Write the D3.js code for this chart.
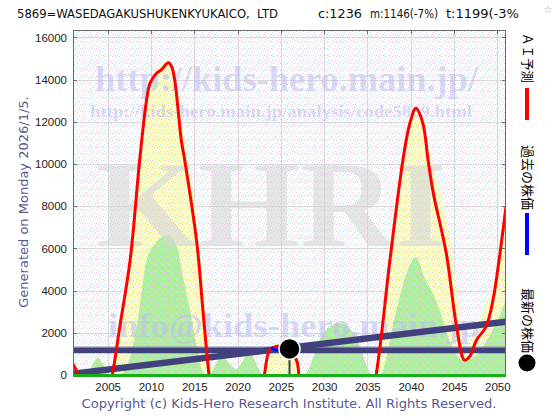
<!DOCTYPE html>
<html><head><meta charset="utf-8">
<script src="https://cdn.jsdelivr.net/npm/d3@7"></script>
<style>html,body{margin:0;padding:0;background:#fff;} svg{display:block;}</style>
</head><body>
<svg id="c" width="560" height="420"></svg>
<script>
// ---------- data ----------
const titleParts = ["5869=WASEDAGAKUSHUKENKYUKAICO,  LTD", "c:1236", "m:1146(-7%)", "t:1199(-3%)"];
const xTicks = [2005, 2010, 2015, 2020, 2025, 2030, 2035, 2040, 2045, 2050];
const yTicks = [0, 2000, 4000, 6000, 8000, 10000, 12000, 14000, 16000];

const aiYears  = [2001.0, 2001.6, 2002.5, 2003.5, 2004.6, 2005.55, 2006.4, 2007.6, 2008.7, 2009.5, 2009.9, 2010.65, 2011.2, 2012.0, 2012.4, 2012.8, 2013.1, 2013.5, 2013.9, 2015.3, 2016.0, 2016.7, 2018.0, 2020.0, 2022.0, 2023.1, 2023.7, 2024.5, 2025.5, 2026.8, 2027.1, 2028.5, 2031.5, 2034.5, 2036.0, 2037.6, 2039.1, 2039.9, 2040.6, 2041.4, 2042.0, 2042.6, 2044.1, 2045.3, 2046.2, 2046.8, 2047.6, 2048.7, 2049.5, 2050.2, 2051.0];
const aiValues = [520, 0, -2500, -3500, -2000, 0, 2275, 5450, 10190, 13040, 13830, 14300, 14460, 14800, 14610, 13830, 12720, 11140, 10190, 6260, 3080, 0, -4500, -5500, -3500, 0, 1150, 1350, 1300, 710, 0, -3000, -4500, -3000, 0, 5450, 10190, 11930, 12640, 11930, 10190, 8630, 5780, 2275, 710, 870, 1660, 2290, 3555, 5450, 7980];

const upperYears  = [2001, 2005.3, 2006.4, 2007.6, 2008.7, 2009.5, 2010.5, 2012.0, 2012.8, 2013.8, 2015.0, 2016.0, 2016.9, 2017.3, 2022.9, 2023.7, 2025.0, 2026.5, 2027.4, 2035.8, 2037.6, 2039.1, 2040.6, 2042.0, 2043.2, 2044.5, 2045.5, 2046.2, 2047.0, 2048.3, 2049.5, 2050.3, 2051.0];
const upperValues = [0, 0, 2600, 5800, 10500, 13300, 14400, 14800, 14000, 11500, 8200, 4500, 1000, 0, 0, 1200, 1500, 1100, 0, 0, 5600, 10300, 12640, 10800, 9000, 6500, 3500, 1300, 1700, 2900, 4200, 6000, 8200];

const lowerYears  = [2001, 2002.4, 2003.9, 2005.3, 2006.3, 2007.2, 2008.35, 2009.5, 2010.5, 2012.0, 2013.0, 2013.7, 2014.5, 2015.3, 2016.0, 2016.6, 2018.2, 2019.8, 2021.4, 2023.0, 2027.6, 2029.9, 2031.8, 2033.7, 2035.6, 2036.4, 2038.3, 2039.5, 2040.6, 2041.5, 2042.9, 2044.8, 2046.0, 2047.5, 2049.0, 2050.2, 2051.0];
const lowerValues = [0, 0, 800, 0, 0, 400, 2290, 5450, 6240, 6630, 6080, 4660, 3080, 1340, 100, 0, 870, 300, 1040, 0, 0, 1980, 2450, 1800, 0, 0, 3000, 4800, 5600, 4700, 3550, 1340, 700, 900, 1800, 2760, 3550];

const pastYears  = [2023.9, 2024.3, 2024.8, 2025.3];
const pastValues = [1300, 1200, 1170, 1230];

const latestYear = 2026.0, latestValue = 1236;
const avgLevels = [1146, 1199];            // m, t
const trendYears = [2001, 2051];
const trendValues = [60, 2526];

const legendLabels = ["ＡＩ予測", "過去の株価", "最新の株価"];

// ---------- drawing ----------
const svg = d3.select("#c");
const x = d3.scaleLinear().domain([2001, 2051]).range([73, 506]);
const y = d3.scaleLinear().domain([0, 16350]).range([375, 30]);
const X0 = x.range()[0], X1 = x.range()[1], Y0 = y.range()[0], Y1 = y.range()[1];

const defs = svg.append("defs");
defs.append("clipPath").attr("id", "plot").append("rect")
  .attr("x", X0).attr("y", Y1).attr("width", X1 - X0).attr("height", Y0 - Y1);
defs.append("clipPath").attr("id", "titleclip").append("rect")
  .attr("x", 0).attr("y", 0).attr("width", 519).attr("height", 30);
const pat = defs.append("pattern").attr("id", "dots").attr("patternUnits", "userSpaceOnUse")
  .attr("width", 7).attr("height", 7);
[[0,0,"#f0b4f0"],[4,1,"#b4ecf0"],[2,3,"#f4c4f0"],[6,4,"#b8e8f4"],[1,5,"#c0f0f0"],[5,6,"#f0bcec"],[3,6,"#d8d8f8"]]
  .forEach(([px,py,c]) => pat.append("rect").attr("x",px).attr("y",py).attr("width",1).attr("height",1).attr("fill",c));

// background of plot
svg.append("rect").attr("x", X0).attr("y", Y1).attr("width", X1 - X0).attr("height", Y0 - Y1).attr("fill", "#fff");

// grid
const grid = svg.append("g").attr("shape-rendering", "crispEdges");
grid.selectAll(".vx").data(xTicks).join("line")
  .attr("x1", d => Math.round(x(d)) + 0.5).attr("x2", d => Math.round(x(d)) + 0.5)
  .attr("y1", Y1).attr("y2", Y0).attr("stroke", "#d8d8d8");
grid.selectAll(".hy").data(yTicks.filter(d => d > 0)).join("line")
  .attr("y1", d => Math.round(y(d)) + 0.5).attr("y2", d => Math.round(y(d)) + 0.5)
  .attr("x1", X0).attr("x2", X1).attr("stroke", "#d8d8d8");

const plot = svg.append("g").attr("clip-path", "url(#plot)");

const area = (ys, vs) => d3.area().x((d, i) => x(ys[i])).y0(Y0).y1((d, i) => y(vs[i])).curve(d3.curveMonotoneX)(vs);
plot.append("path").attr("d", area(upperYears, upperValues)).attr("fill", "#ffffbe");
plot.append("path").attr("d", area(lowerYears, lowerValues)).attr("fill", "#aeee98");

// stipple
plot.append("rect").attr("x", X0).attr("y", Y1).attr("width", X1 - X0).attr("height", Y0 - Y1)
  .attr("fill", "url(#dots)").attr("shape-rendering", "crispEdges");

// watermarks
const wm = plot.append("g").attr("font-family", "'Liberation Serif','DejaVu Serif',serif").attr("font-weight", "bold");
wm.append("text").attr("x", 95).attr("y", 91).attr("font-size", 36).attr("textLength", 383)
  .attr("lengthAdjust", "spacingAndGlyphs").attr("fill", "#c0c0ee").attr("fill-opacity", 0.6)
  .text("http://kids-hero.main.jp/");
wm.append("text").attr("x", 90).attr("y", 117).attr("font-size", 17).attr("textLength", 382)
  .attr("lengthAdjust", "spacingAndGlyphs").attr("fill", "#c0c0ee").attr("fill-opacity", 0.6)
  .text("http://kids-hero.main.jp/analysis/code5869.html");
wm.append("text").attr("x", 96).attr("y", 246).attr("font-size", 122).attr("textLength", 350)
  .attr("lengthAdjust", "spacingAndGlyphs").attr("fill", "#d6d6da").attr("fill-opacity", 0.6)
  .text("KHRI");
wm.append("text").attr("x", 108).attr("y", 337).attr("font-size", 34).attr("textLength", 372)
  .attr("lengthAdjust", "spacingAndGlyphs").attr("fill", "#c0c0ee").attr("fill-opacity", 0.6)
  .text("info@kids-hero.main.jp");

// average bands and trend line
const navy = "#41417e";
avgLevels.forEach(v => plot.append("line").attr("x1", X0).attr("x2", X1)
  .attr("y1", y(v)).attr("y2", y(v)).attr("stroke", navy).attr("stroke-width", 5));
plot.append("line").attr("x1", X0).attr("x2", X1).attr("y1", y(1330)).attr("y2", y(1330))
  .attr("stroke", "#9a9ab8").attr("stroke-width", 1);
plot.append("line").attr("x1", x(trendYears[0])).attr("x2", x(trendYears[1]))
  .attr("y1", y(trendValues[0])).attr("y2", y(trendValues[1])).attr("stroke", navy).attr("stroke-width", 6.5);

// AI forecast
const line = d3.line().x((d, i) => x(aiYears[i])).y((d, i) => y(aiValues[i])).curve(d3.curveCatmullRom.alpha(0.5));
plot.append("path").attr("d", line(aiValues)).attr("fill", "none").attr("stroke", "#ff0000")
  .attr("stroke-width", 3).attr("stroke-linejoin", "round");

// past prices
const pline = d3.line().x((d, i) => x(pastYears[i])).y((d, i) => y(pastValues[i])).curve(d3.curveMonotoneX);
plot.append("path").attr("d", pline(pastValues)).attr("fill", "none").attr("stroke", "#0000ff").attr("stroke-width", 3);

// latest price
plot.append("line").attr("x1", x(latestYear)).attr("x2", x(latestYear)).attr("y1", y(latestValue)).attr("y2", Y0)
  .attr("stroke", "#404040").attr("stroke-width", 2);
plot.append("circle").attr("cx", x(latestYear)).attr("cy", y(latestValue)).attr("r", 10.5)
  .attr("fill", "#000").attr("stroke", "#fff").attr("stroke-width", 1.5);

// frame
const fr = svg.append("g").attr("shape-rendering", "crispEdges").attr("stroke", "#6a6a6a");
fr.append("line").attr("x1", X0 + 0.5).attr("x2", X0 + 0.5).attr("y1", Y1).attr("y2", Y0);
fr.append("line").attr("x1", X1 - 0.5).attr("x2", X1 - 0.5).attr("y1", Y1).attr("y2", Y0);
fr.append("line").attr("x1", X0).attr("x2", X1).attr("y1", Y1 + 0.5).attr("y2", Y1 + 0.5);
xTicks.forEach(t => {
  fr.append("line").attr("x1", Math.round(x(t)) + 0.5).attr("x2", Math.round(x(t)) + 0.5).attr("y1", Y1).attr("y2", Y1 + 4);
});
yTicks.filter(d => d > 0).forEach(t => {
  fr.append("line").attr("x1", X0).attr("x2", X0 + 4).attr("y1", Math.round(y(t)) + 0.5).attr("y2", Math.round(y(t)) + 0.5);
  fr.append("line").attr("x1", X1 - 4).attr("x2", X1).attr("y1", Math.round(y(t)) + 0.5).attr("y2", Math.round(y(t)) + 0.5);
});
svg.append("line").attr("x1", X0).attr("x2", X1).attr("y1", Y0 + 0.5).attr("y2", Y0 + 0.5)
  .attr("stroke", "#16b016").attr("stroke-width", 3);

// axes labels
const yAxis = d3.axisLeft(y).tickValues(yTicks).tickSize(0).tickPadding(6).tickFormat(d3.format("d"));
const ga = svg.append("g").attr("transform", `translate(${X0},0)`).call(yAxis);
ga.select(".domain").remove();
ga.selectAll("text").attr("font-family", "'Liberation Sans',Arial,sans-serif").attr("font-size", 11.5).attr("fill", "#222");
const xAxis = d3.axisBottom(x).tickValues(xTicks).tickSize(0).tickPadding(8).tickFormat(d3.format("d"));
const gx = svg.append("g").attr("transform", `translate(0,${Y0})`).call(xAxis);
gx.select(".domain").remove();
gx.selectAll("text").attr("font-family", "'Liberation Sans',Arial,sans-serif").attr("font-size", 11.5).attr("fill", "#222");

// title
const tg = svg.append("g").attr("clip-path", "url(#titleclip)").attr("font-family", "'DejaVu Sans',Verdana,sans-serif")
  .attr("font-size", 11.5).attr("fill", "#111");
const titleX = [17, 318, 370, 446];
const titleW = [261, 44, 68, 78];
titleParts.forEach((t, i) => tg.append("text").attr("x", titleX[i]).attr("y", 18).attr("textLength", titleW[i])
  .attr("lengthAdjust", "spacingAndGlyphs").attr("xml:space", "preserve").text(t));
svg.append("text").attr("x", 548).attr("y", 13).attr("font-size", 10).attr("fill", "#999")
  .attr("font-family", "'DejaVu Sans',sans-serif").attr("text-anchor", "middle").text("☆");

// side label
svg.append("text").attr("transform", "translate(23,202) rotate(-90)").attr("text-anchor", "middle")
  .attr("dominant-baseline", "central").attr("font-family", "'DejaVu Sans',Verdana,sans-serif")
  .attr("font-size", 13).attr("fill", "#5a5a92").text("Generated on Monday 2026/1/5.");

// copyright
svg.append("text").attr("x", 289).attr("y", 408).attr("text-anchor", "middle")
  .attr("font-family", "'DejaVu Sans',Verdana,sans-serif").attr("font-size", 12.5).attr("fill", "#5a5a92")
  .attr("textLength", 415).attr("lengthAdjust", "spacingAndGlyphs")
  .text("Copyright (c) Kids-Hero Research Institute. All Rights Reserved.");

// legend
const lg = svg.append("g").attr("font-family", "'Noto Sans CJK JP',sans-serif").attr("font-size", 13).attr("fill", "#000");
const legY = [33, 145, 288];
const legLen = [50, 65, 65];
legendLabels.forEach((t, i) => lg.append("text").attr("transform", `translate(528,${legY[i]}) rotate(90)`)
  .attr("dominant-baseline", "central").attr("textLength", legLen[i]).attr("lengthAdjust", "spacingAndGlyphs").text(t));
lg.append("line").attr("x1", 527).attr("x2", 527).attr("y1", 88).attr("y2", 120).attr("stroke", "#ff0000").attr("stroke-width", 4);
lg.append("line").attr("x1", 527).attr("x2", 527).attr("y1", 213).attr("y2", 255).attr("stroke", "#0000ff").attr("stroke-width", 4);
lg.append("circle").attr("cx", 527).attr("cy", 363).attr("r", 8.5).attr("fill", "#000");
</script>
</body></html>
